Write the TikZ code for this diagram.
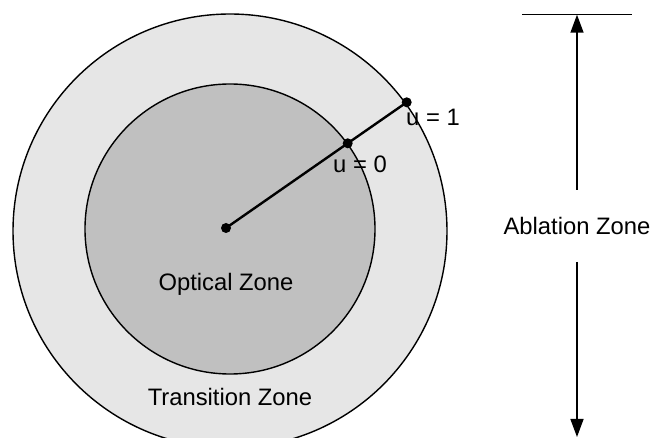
\documentclass[tikz,border=0pt]{standalone}
\usepackage{fontspec}
\setmainfont{Liberation Sans}
\usetikzlibrary{arrows.meta}
\definecolor{outerfill}{HTML}{E6E6E6}
\definecolor{innerfill}{HTML}{C0C0C0}
\begin{document}
\begin{tikzpicture}[x=1pt,y=-1pt,
  lbl/.style={font=\fontsize{23.8}{28}\selectfont, inner sep=0pt},
  dot/.style={circle, fill=black, inner sep=0pt, minimum size=10pt},
  zone/.style={circle, draw=black, line width=1.4pt, inner sep=0pt},
  arr/.style={line width=1.4pt, -{Triangle[length=18pt,width=13pt]}}]
\clip (0,0) rectangle (654,438);
\useasboundingbox (0,0) rectangle (654,438);
% zones
\node[zone, fill=outerfill, minimum size=434pt] (outer) at (230,231) {};
\node[zone, fill=innerfill, minimum size=290pt] (inner) at (230,229) {};
% radial line
\node[dot] (c) at (226,228) {};
\node[dot] (u0) at (347.7,143.3) {};
\node[dot] (u1) at (406.7,102.3) {};
\draw[line width=2.4pt] (c.center) -- (u0.center) -- (u1.center);
% labels
\node[lbl, anchor=base west] (lu0) at (333,173) {u = 0};
\node[lbl, anchor=base west] (lu1) at (406,126) {u = 1};
\node[lbl] (opt) at (226,284) {Optical Zone};
\node[lbl] (tra) at (230,397) {Transition Zone};
\node[lbl] (abl) at (577,226) {Ablation Zone};
% ablation zone dimension
\coordinate (barl) at (522,14.7);
\coordinate (barr) at (632,14.7);
\coordinate (atop) at (577,14.7);
\coordinate (abot) at (577,437);
\coordinate (s1) at (577,190);
\coordinate (s2) at (577,262);
\draw[line width=1.4pt] (barl) -- (barr);
\draw[arr] (s1) -- (atop);
\draw[arr] (s2) -- (abot);
\end{tikzpicture}
\end{document}
